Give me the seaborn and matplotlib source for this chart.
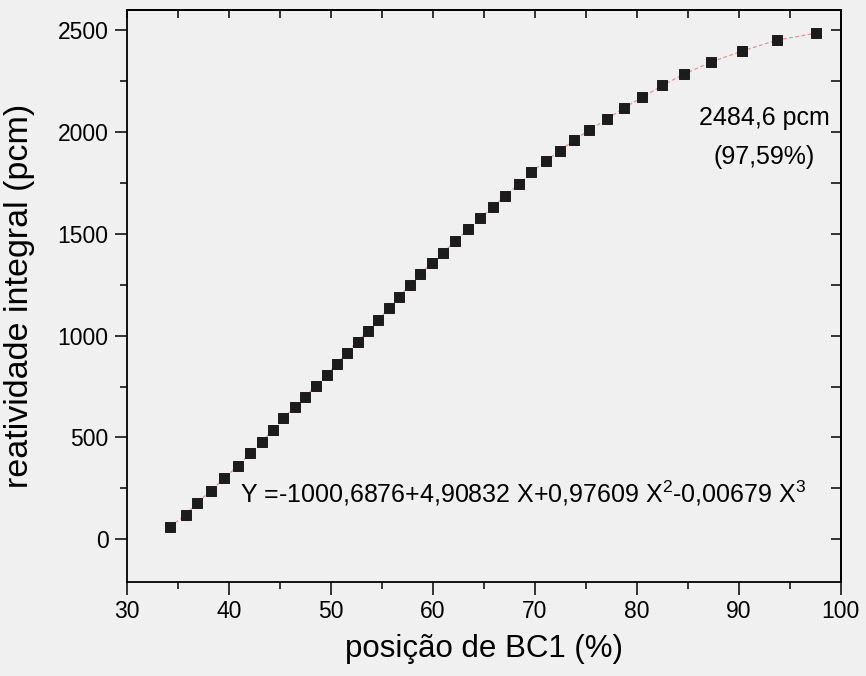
import matplotlib
matplotlib.use("Agg")
import matplotlib.pyplot as plt
import seaborn as sns
import pandas as pd
from matplotlib.ticker import MultipleLocator

# posicao da barra de controle BC1 (%) e reatividade integral (pcm)
posicao = [34.25, 35.78, 36.92, 38.26, 39.57, 40.88, 42.09, 43.24, 44.37, 45.35,
           46.50, 47.48, 48.53, 49.61, 50.59, 51.57, 52.65, 53.63, 54.67, 55.72,
           56.70, 57.73, 58.75, 59.90, 61.04, 62.19, 63.49, 64.64, 65.88, 67.09,
           68.49, 69.64, 71.11, 72.48, 73.85, 75.35, 77.06, 78.78, 80.55, 82.51,
           84.64, 87.29, 90.32, 93.75, 97.59]
reatividade = [62, 119, 180, 239, 300, 360, 422, 479, 537, 594,
               651, 700, 753, 807, 861, 916, 970, 1023, 1077, 1134,
               1190, 1246, 1302, 1355, 1407, 1464, 1522, 1576, 1630, 1687,
               1744, 1801, 1859, 1908, 1960, 2009, 2062, 2119, 2170, 2228,
               2284, 2343, 2397, 2451, 2484.6]

equacao = "Y =-1000,6876+4,90832 X+0,97609 X$^2$-0,00679 X$^3$"
rotulo_final = "2484,6 pcm"
rotulo_pct = "(97,59%)"

df = pd.DataFrame({"pos": posicao, "rho": reatividade})

sns.set_theme(style="ticks")
plt.rcParams["font.family"] = ["Liberation Sans", "DejaVu Sans"]
plt.rcParams["mathtext.fontset"] = "custom"
plt.rcParams["mathtext.rm"] = "Liberation Sans"
plt.rcParams["mathtext.it"] = "Liberation Sans"
plt.rcParams["text.color"] = "black"
plt.rcParams["axes.labelcolor"] = "black"

bg = "#f0f0f0"
fig = plt.figure(figsize=(8.66, 6.76), dpi=100, facecolor=bg)
ax = fig.add_axes([0.1463, 0.139, 0.8245, 0.846])
ax.set_facecolor(bg)

# linha do ajuste (fina, avermelhada)
sns.lineplot(data=df, x="pos", y="rho", ax=ax, color="#e07a7a", linewidth=0.9,
             linestyle=(0, (3, 2)), alpha=0.8, zorder=2)
sns.scatterplot(data=df, x="pos", y="rho", ax=ax, marker="s", s=55,
                color="#1c1c1c", edgecolor="#0a0a0a", linewidth=0.6, zorder=3)

ax.set_xlim(30, 100)
ax.set_ylim(-210, 2598)
ax.xaxis.set_major_locator(MultipleLocator(10))
ax.xaxis.set_minor_locator(MultipleLocator(5))
ax.yaxis.set_major_locator(MultipleLocator(500))
ax.yaxis.set_minor_locator(MultipleLocator(250))

ax.tick_params(axis="both", which="major", direction="out", length=9, width=1.1,
               labelsize=16.5, colors="black", pad=4)
ax.tick_params(axis="both", which="minor", direction="out", length=5, width=1.1,
               colors="black")

# ticks internos em cima e a direita
top = ax.secondary_xaxis("top")
top.xaxis.set_major_locator(MultipleLocator(5))
top.tick_params(direction="in", length=6, width=1.1, labeltop=False, colors="black")
right = ax.secondary_yaxis("right")
right.yaxis.set_major_locator(MultipleLocator(250))
right.tick_params(direction="in", length=7, width=1.1, labelright=False, colors="black")

for sp in list(ax.spines.values()) + [top.spines["top"], right.spines["right"]]:
    sp.set_linewidth(1.3)
    sp.set_color("black")

ax.set_xlabel("posição de BC1 (%)", fontsize=22.5, labelpad=8)
ax.set_ylabel("reatividade integral (pcm)", fontsize=24.5)
ax.yaxis.set_label_coords(-0.128, 0.5)

ax.text(41.1, 227, equacao, fontsize=18, va="center", ha="left")
ax.text(92.5, 2068, rotulo_final, fontsize=18, va="center", ha="center")
ax.text(92.5, 1877, rotulo_pct, fontsize=18, va="center", ha="center")

fig.savefig("out.png", dpi=100, facecolor=bg)
